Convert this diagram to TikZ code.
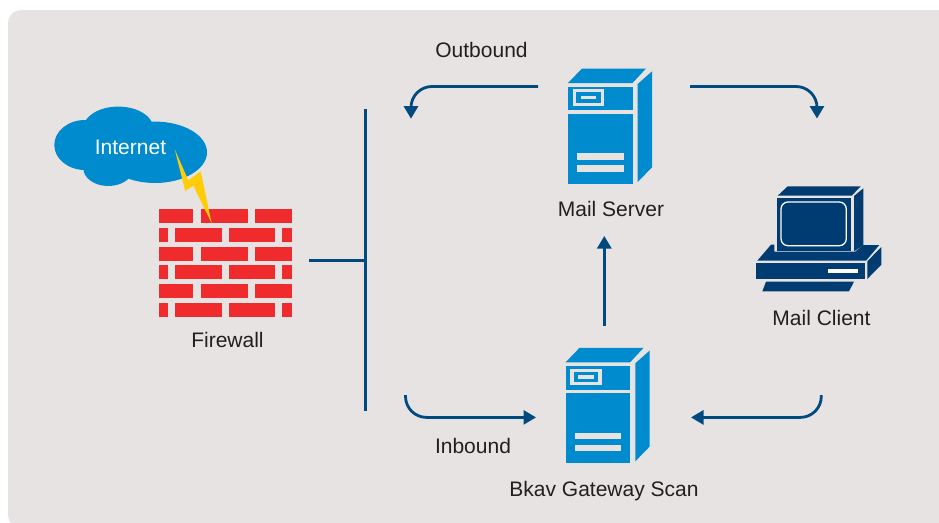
\documentclass[tikz,border=0pt]{standalone}
\usepackage{fontspec}
\setmainfont{Liberation Sans}
\usetikzlibrary{arrows.meta}
\definecolor{panelbg}{HTML}{E7E3E3}
\definecolor{srvblue}{HTML}{008BCF}
\definecolor{navy}{HTML}{003B71}
\definecolor{flowblue}{HTML}{004A80}
\definecolor{brick}{HTML}{EF2B2D}
\definecolor{bolt}{HTML}{FFCC08}
\definecolor{inkc}{HTML}{231F20}
\tikzset{
  lbl/.style={inner sep=0pt,text=inkc,font=\fontsize{21}{25}\selectfont},
  flow/.style={draw=flowblue,line width=2.8pt,-{Triangle[length=12.5pt,width=14pt]}},
  busline/.style={draw=flowblue,line width=2.6pt},
  brickfill/.style={fill=brick},
  srv/.style={fill=srvblue},
  gap/.style={fill=panelbg},
  pc/.style={fill=navy},
  pics/serverbox/.style={code={
    \fill[srv] (568,83) -- (582,68.5) -- (646,68.5) -- (632.5,83) -- cycle;
    \fill[srv] (568.3,86.7) rectangle (632.7,110.3);
    \fill[srv] (568.3,113.7) rectangle (632.7,184);
    \fill[srv] (637.7,84) -- (652,71.3) -- (652,167.3) -- (637.7,182) -- cycle;
    \fill[gap] (572.7,89.3) rectangle (604,106);
    \fill[srv] (576,92.3) rectangle (600.7,102.7);
    \fill[gap] (580.7,96) rectangle (596.3,99.3);
    \fill[gap] (577.3,153.3) rectangle (623.7,159.7);
    \fill[gap] (577.3,165.3) rectangle (623.7,172);
  }}
}
\newcommand{\rowA}[1]{%
  \fill[brickfill] (159,#1) rectangle ++(34,14);
  \fill[brickfill] (201,#1) rectangle ++(47,14);
  \fill[brickfill] (255,#1) rectangle ++(37,14);}
\newcommand{\rowB}[1]{%
  \fill[brickfill] (159,#1) rectangle ++(9,14);
  \fill[brickfill] (175,#1) rectangle ++(47,14);
  \fill[brickfill] (229,#1) rectangle ++(46,14);
  \fill[brickfill] (282,#1) rectangle ++(10,14);}
\begin{document}
\begin{tikzpicture}[x=1pt,y=-1pt]
\useasboundingbox (0,0) rectangle (939,522);
\clip (0,0) rectangle (939,522);
\fill[panelbg,rounded corners=13pt] (8,10) rectangle (955,528);

% cloud
\fill[srv] (85,145) ellipse [x radius=30.7,y radius=25];
\fill[srv] (118.3,128.3) ellipse [x radius=35,y radius=21.7];
\fill[srv] (108.3,168.3) ellipse [x radius=25,y radius=17.7];
\fill[srv] (155,152.3) ellipse [x radius=52,y radius=30.7];
\node[lbl,text=white] (internet) at (130.5,147) {Internet};

% firewall
\rowA{209}\rowB{228}\rowA{247}\rowB{265}\rowA{284}\rowB{303}
\fill[bolt] (174.7,149.3) -- (185.3,191) -- (193.3,185.7) -- (211.7,223.3) -- (200.7,171.3) -- (188.3,180.3) -- cycle;
\node[lbl] (firewall) at (227.5,340) {Firewall};

% servers
\pic {serverbox};
\node[lbl] (mailserver) at (611,209) {Mail Server};
\begin{scope}[shift={(-2.4,279.3)}]
\pic {serverbox};
\end{scope}
\node[lbl] (gateway) at (604,491) {Bkav Gateway Scan};

% mail client
\fill[pc] (777.7,195.7) -- (787.7,186.3) -- (860.7,186.3) -- (851.7,195.7) -- cycle;
\fill[pc] (777,198) rectangle (851,250.7);
\fill[pc] (854,196) -- (863.3,188.3) -- (863.3,245.3) -- (854,251.3) -- cycle;
\draw[white,line width=1.3pt,rounded corners=7pt] (781,202) rectangle (846.3,245.7);
\fill[pc] (757.3,260.7) -- (771,244.7) -- (774.3,244.7) -- (774.3,251.7) -- (855,251.7) -- (863.3,245) -- (879.3,245) -- (866,260.7) -- cycle;
\fill[pc] (756,263) rectangle (865,279);
\fill[white] (828,269) rectangle (858,273.3);
\fill[pc] (867.3,261.3) -- (881.3,247) -- (881.3,264.7) -- (867.3,279) -- cycle;
\fill[pc] (766,281.7) -- (854,281.7) -- (849,291.3) -- (762.3,291.3) -- cycle;
\node[lbl] (mailclient) at (821.5,318) {Mail Client};

% labels
\node[lbl] (outbound) at (481.5,50) {Outbound};
\node[lbl] (inbound) at (473,446) {Inbound};

% connector ends
\coordinate (busT) at (365.5,109);
\coordinate (busB) at (365.5,411);
\coordinate (busM) at (365.5,260.3);
\coordinate (fwOut) at (309,260.3);
\coordinate (outS) at (538,86.5);
\coordinate (outE) at (411,118.7);
\coordinate (clS) at (690,86.5);
\coordinate (clE) at (817,118.5);
\coordinate (inS) at (405.5,395);
\coordinate (inE) at (536,417.4);
\coordinate (retS) at (821.3,395);
\coordinate (retE) at (691,417.4);
\coordinate (upS) at (604.3,325.7);
\coordinate (upE) at (604.3,236);

\draw[busline] (busT) -- (busB);
\draw[busline] (fwOut) -- (busM);
\draw[flow,rounded corners=21pt] (outS) -| (outE);
\draw[flow,rounded corners=21pt] (clS) -| (clE);
\draw[flow,rounded corners=21pt] (inS) |- (inE);
\draw[flow,rounded corners=21pt] (retS) |- (retE);
\draw[flow] (upS) -- (upE);
\end{tikzpicture}
\end{document}
